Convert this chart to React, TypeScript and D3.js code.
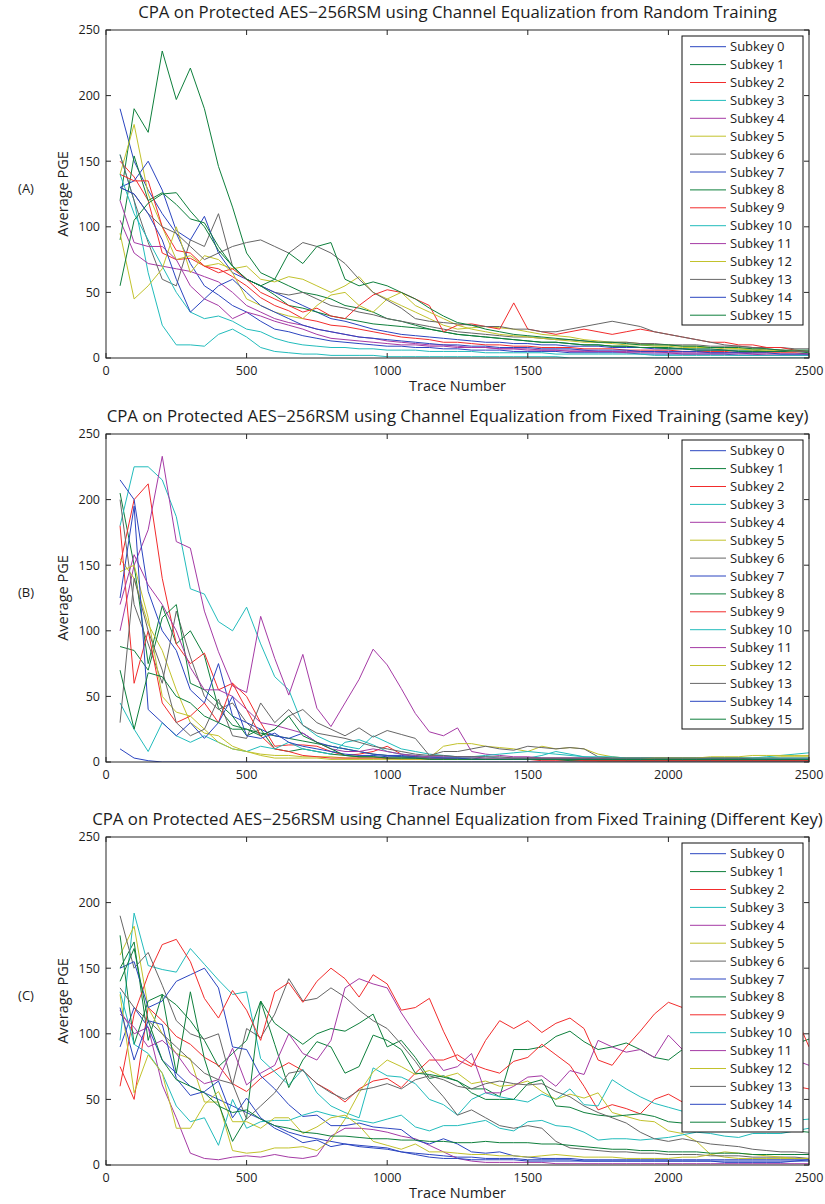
import React from "react";
import * as d3 from "d3";

const traces = [50,100,150,200,250,300,350,400,450,500,550,600,650,700,750,800,850,900,950,1000,1050,1100,1150,1200,1250,1300,1350,1400,1450,1500,1550,1600,1650,1700,1750,1800,1850,1900,1950,2000,2050,2100,2150,2200,2250,2300,2350,2400,2450,2500];
const xTicks = [0, 500, 1000, 1500, 2000, 2500];
const yTicks = [0, 50, 100, 150, 200, 250];
const subkeyLabels = ["Subkey 0","Subkey 1","Subkey 2","Subkey 3","Subkey 4","Subkey 5","Subkey 6","Subkey 7","Subkey 8","Subkey 9","Subkey 10","Subkey 11","Subkey 12","Subkey 13","Subkey 14","Subkey 15"];
const lineColors = ["#2b45c0", "#0e7f3c", "#f22c2c", "#22bcbc", "#a53aa5", "#c2c22c", "#666666"];
const panelTitles = [
  "CPA on Protected AES\u2212256RSM using Channel Equalization from Random Training",
  "CPA on Protected AES\u2212256RSM using Channel Equalization from Fixed Training (same key)",
  "CPA on Protected AES\u2212256RSM using Channel Equalization from Fixed Training (Different Key)",
];
const panelLabels = ["(A)", "(B)", "(C)"];

const randomTraining: number[][] = [
  [190,150,128,110,95,72,55,48,40,35,28,22,20,17,15,13,12,11,10,9,9,8,8,7,7,6,6,6,5,5,5,5,4,4,4,4,4,3,3,3,3,3,3,3,2,2,2,2,2,2],
  [120,190,172,234,197,221,190,146,115,80,65,60,55,50,48,45,40,38,35,30,28,25,22,20,18,17,16,15,14,13,12,12,11,10,10,9,9,8,8,8,7,7,7,6,6,6,5,5,5,4],
  [150,138,120,80,75,76,70,68,62,55,46,40,36,30,28,25,24,22,20,18,16,15,14,12,12,11,10,10,9,9,8,8,8,7,7,7,6,6,6,6,5,5,5,5,4,4,4,4,4,3],
  [155,120,65,25,10,10,9,18,22,16,8,5,4,3,3,2,2,2,2,1,1,1,1,1,1,1,1,1,1,1,1,1,0,0,0,0,0,0,0,0,0,0,0,0,0,0,0,0,0,0],
  [105,80,72,70,68,66,62,58,50,40,35,30,27,25,22,20,18,16,15,13,12,11,10,10,9,8,8,7,7,6,6,6,5,5,5,5,4,4,4,4,3,3,3,3,3,3,2,2,2,2],
  [140,178,125,100,75,78,70,72,68,70,60,58,62,60,55,50,55,62,50,45,40,35,30,25,22,23,24,23,22,20,18,17,16,14,13,12,12,11,10,10,9,9,8,8,7,7,6,6,5,5],
  [155,120,88,60,55,90,85,110,70,60,55,50,48,50,45,40,38,35,33,30,28,26,24,22,20,19,18,17,16,16,15,14,14,13,12,12,12,11,11,10,10,10,9,9,9,8,8,8,7,7],
  [130,135,150,128,97,90,108,80,65,60,55,50,45,40,35,30,28,25,22,20,18,17,16,15,14,13,12,12,11,11,10,10,9,9,9,8,8,8,7,7,7,6,6,6,5,5,5,5,5,5],
  [90,154,120,126,117,106,103,85,70,60,55,48,40,38,35,32,30,28,26,25,24,23,22,20,18,17,16,15,14,13,12,12,11,10,10,9,9,8,8,7,7,6,6,6,5,5,5,5,5,5],
  [140,135,135,100,82,80,70,65,68,60,50,45,40,35,38,32,30,40,48,52,50,45,40,20,25,26,24,22,42,22,20,18,20,22,20,18,20,22,20,18,16,14,12,12,10,10,8,8,6,5],
  [140,110,90,70,50,35,30,32,28,22,20,15,12,10,9,8,8,7,7,6,6,6,5,5,5,5,4,4,4,4,4,3,3,3,3,3,3,3,2,2,2,2,2,2,2,2,2,2,2,2],
  [120,88,85,85,75,55,45,40,30,35,32,28,25,22,18,15,14,13,12,11,10,10,9,9,8,8,8,7,7,7,6,6,6,6,5,5,5,5,5,4,4,4,4,4,4,3,3,3,3,3],
  [95,45,55,68,100,65,78,75,65,45,40,35,32,30,40,48,50,40,35,45,50,40,35,30,25,22,20,18,17,16,15,14,13,12,12,11,10,10,9,9,8,8,8,7,7,6,6,6,5,5],
  [130,125,110,100,95,85,75,80,85,88,90,85,80,88,85,80,72,60,50,44,38,30,28,27,26,25,24,24,22,22,20,20,22,24,26,28,26,24,20,18,16,14,12,10,9,8,7,6,5,5],
  [130,125,110,90,60,35,45,55,60,50,40,35,30,25,22,20,18,16,15,14,13,12,11,10,10,9,9,8,8,8,7,7,7,6,6,6,6,5,5,5,5,5,4,4,4,4,4,3,3,3],
  [55,105,118,125,126,112,100,82,70,60,55,60,80,72,85,88,60,55,58,55,50,45,38,32,27,25,22,20,18,17,16,15,14,13,12,12,11,10,10,10,9,9,8,8,8,7,7,6,6,6],
];

const fixedSameKey: number[][] = [
  [10,3,1,0,0,0,0,0,0,0,0,0,0,0,0,0,0,0,0,0,0,0,0,0,0,0,0,0,0,0,0,0,0,0,0,0,0,0,0,0,0,0,0,0,0,0,0,0,0,0],
  [205,150,75,119,90,100,81,41,28,25,22,20,18,16,14,12,10,8,6,5,4,4,3,3,3,2,2,2,2,2,2,2,2,2,1,1,1,1,1,1,1,1,1,1,1,1,1,1,1,1],
  [150,200,212,140,90,75,83,55,60,50,30,12,13,13,12,8,5,6,8,12,6,4,3,3,2,2,2,2,2,2,1,1,1,1,1,1,1,1,1,1,1,1,1,1,1,1,1,1,1,1],
  [180,225,225,215,187,132,128,107,100,118,90,65,55,28,20,15,12,10,20,15,10,8,6,5,4,4,4,3,3,3,5,8,6,4,3,3,3,3,3,3,3,3,3,3,3,3,4,5,6,7],
  [100,150,177,233,168,163,115,84,58,53,111,79,51,82,41,27,45,63,86,74,56,37,23,20,26,8,6,5,4,4,3,3,3,3,2,2,2,2,2,2,2,2,2,2,2,2,2,2,2,2],
  [155,140,105,85,55,30,22,20,12,8,6,5,5,4,4,4,3,3,3,3,3,3,3,12,14,14,12,11,10,8,12,10,11,10,6,4,3,3,3,3,3,3,3,3,3,3,3,4,4,4],
  [200,120,90,60,115,80,50,40,45,30,20,25,35,40,30,25,20,26,19,24,21,18,5,8,8,10,12,10,9,12,11,10,11,10,4,3,3,3,3,3,3,3,3,3,3,3,3,3,3,3],
  [215,200,130,100,85,55,45,75,35,30,25,20,18,22,15,12,10,8,6,5,5,4,4,3,3,3,2,2,2,2,2,2,2,2,2,2,1,1,1,1,1,1,1,1,1,1,1,1,1,1],
  [88,85,70,110,120,60,55,45,35,20,25,10,8,10,8,6,5,4,4,3,3,3,2,2,2,2,2,2,2,2,2,2,1,1,1,1,1,1,1,1,1,1,1,1,1,1,1,1,1,1],
  [180,60,100,45,30,35,45,30,60,40,20,10,8,5,4,3,3,3,3,3,2,2,2,2,2,2,2,2,2,2,2,2,2,1,1,1,1,1,1,1,1,1,1,1,1,1,1,1,1,1],
  [45,25,8,30,20,15,20,15,10,8,12,10,15,10,8,6,15,17,13,8,6,5,4,4,4,4,5,6,7,8,7,6,5,4,4,4,3,3,3,3,3,3,3,3,3,3,3,3,3,3],
  [120,158,135,120,100,72,55,55,50,40,30,28,25,22,15,10,8,8,10,8,6,5,4,4,4,4,3,3,3,3,3,3,3,3,3,2,2,2,2,2,2,2,2,2,2,2,2,2,2,2],
  [145,150,110,50,38,35,25,15,10,8,5,3,3,3,3,2,2,2,2,2,2,2,2,2,2,2,2,2,2,2,2,2,2,2,2,2,2,2,3,3,3,3,4,4,4,5,5,5,5,5],
  [30,140,100,70,30,20,25,48,20,18,45,30,40,28,22,20,18,15,12,10,8,6,5,5,4,4,4,4,3,3,3,3,3,3,3,3,3,3,3,3,3,3,3,3,3,2,2,2,2,2],
  [125,195,40,30,20,30,18,30,50,20,18,22,15,12,10,8,6,5,5,4,4,3,3,3,3,2,2,2,2,2,2,2,2,2,2,2,2,2,2,2,2,2,2,2,2,2,2,2,2,2],
  [70,25,68,65,50,45,35,30,25,25,20,25,35,20,15,10,5,4,4,3,3,3,2,2,2,2,2,2,2,2,2,2,2,2,2,2,2,2,2,2,2,2,2,2,2,2,2,2,2,2],
];

const fixedDifferentKey: number[][] = [
  [90,120,105,80,70,60,55,50,45,40,35,30,25,22,20,18,16,14,13,12,10,9,8,7,6,6,5,5,5,4,4,4,4,3,3,3,3,3,3,3,3,3,3,2,2,2,2,2,3,4],
  [150,170,95,130,122,110,95,75,85,95,125,108,100,92,100,104,102,108,115,90,95,82,66,68,64,58,58,52,88,88,90,98,102,94,88,90,93,88,82,80,88,90,92,90,88,92,90,88,92,96],
  [75,50,120,110,98,92,82,76,62,56,66,72,78,72,62,56,48,58,64,66,59,70,80,80,84,77,73,70,79,82,92,84,76,60,42,46,43,39,50,54,48,50,55,60,58,62,65,62,60,58],
  [95,192,152,149,147,165,153,141,130,132,81,71,61,73,55,45,40,36,74,68,67,62,50,46,38,50,55,52,50,48,54,50,58,46,45,65,58,52,47,44,41,40,38,37,36,36,35,34,34,35],
  [118,100,105,61,36,9,5,4,6,7,6,8,6,5,7,22,28,28,27,25,22,20,15,10,5,3,2,2,2,2,2,1,1,1,1,1,1,1,1,1,1,1,1,1,1,1,1,1,1,1],
  [160,182,120,100,85,81,48,48,11,9,10,13,13,14,11,19,35,55,71,80,75,69,72,67,70,62,64,60,61,64,56,50,54,51,55,40,37,34,33,26,24,18,8,6,5,5,5,5,5,5],
  [190,150,162,137,110,100,96,100,61,104,97,115,142,125,127,135,128,118,110,104,92,79,64,52,38,42,36,30,28,30,28,18,13,12,11,10,10,9,9,8,8,8,7,7,7,6,6,6,6,5],
  [150,155,120,125,140,145,150,135,90,88,68,58,46,37,38,30,30,32,29,28,27,19,16,20,16,10,9,10,7,6,5,5,5,4,4,4,4,4,4,4,4,4,4,4,4,4,4,4,4,4],
  [175,92,125,130,70,132,81,47,18,36,125,92,59,80,94,90,70,75,99,95,88,70,69,67,64,55,50,50,50,62,65,45,44,40,38,37,38,39,37,33,32,30,30,29,28,28,27,27,26,25],
  [60,115,145,168,172,155,127,112,133,118,95,132,139,124,140,150,142,128,145,138,118,120,127,102,80,75,95,110,104,110,101,108,112,104,80,76,90,102,115,124,120,118,115,112,108,112,110,118,115,90],
  [132,92,85,70,45,33,36,15,50,28,33,34,34,38,41,38,36,34,32,35,38,29,26,30,30,32,34,28,26,33,34,30,29,25,19,20,20,19,20,21,23,25,24,22,21,24,24,24,26,28],
  [115,105,90,95,85,70,62,65,89,61,70,76,100,85,80,95,135,142,138,135,116,100,86,72,75,85,55,55,60,67,68,60,72,69,95,90,86,88,82,99,88,85,80,82,85,80,78,82,80,76],
  [130,55,84,70,28,28,46,56,33,33,28,36,36,24,29,36,38,30,18,15,12,16,10,10,9,8,8,7,7,6,7,8,7,6,6,6,5,5,5,5,6,6,8,10,9,8,7,6,5,5],
  [135,120,110,100,90,80,70,65,62,35,45,55,70,72,62,55,50,57,59,62,58,65,68,65,60,58,62,64,62,61,62,56,52,45,40,36,32,25,20,18,20,18,16,15,14,12,11,10,10,9],
  [120,80,110,107,66,53,56,64,36,51,36,28,23,17,19,14,16,15,14,13,10,8,6,5,5,4,4,4,4,3,3,3,3,3,3,3,3,3,3,3,3,3,3,3,3,3,3,3,3,3],
  [140,165,110,80,65,60,55,45,40,42,35,30,28,25,24,22,22,21,20,20,19,19,18,18,17,17,18,17,17,17,16,16,15,14,13,12,12,11,11,10,10,10,9,9,9,8,8,8,8,8],
];

const panelData = [randomTraining, fixedSameKey, fixedDifferentKey];

const FONT = "'Open Sans', 'DejaVu Sans', sans-serif";
const LEFT = 106;
const RIGHT = 809;
const PLOT_H = 328;
const TOPS = [30, 434, 837];
const AXIS = "#262626";
const TEXT = "#1c1c1c";

function Panel({ top, series, title, label }: { top: number; series: number[][]; title: string; label: string }) {
  const bottom = top + PLOT_H;
  const x = d3.scaleLinear().domain([0, 2500]).range([LEFT, RIGHT]);
  const y = d3.scaleLinear().domain([0, 250]).range([bottom, top]);
  const line = d3
    .line<number>()
    .x((_, i) => x(traces[i]))
    .y((d) => y(d));
  const tickLen = 5;
  const legX = 682;
  const legY = top + 6;
  const legW = 121;
  const legH = 289;
  const clipId = "clip" + top;
  return (
    <g>
      <text x={(LEFT + RIGHT) / 2} y={top - 18} dy="0.35em" textAnchor="middle" fontSize={16.8} fill={TEXT} fontFamily={FONT}>
        {title}
      </text>
      <defs>
        <clipPath id={clipId}>
          <rect x={LEFT} y={top} width={RIGHT - LEFT} height={PLOT_H} />
        </clipPath>
      </defs>
      <g clipPath={`url(#${clipId})`}>
        {series.map((s, i) => (
          <path key={i} d={line(s) || ""} fill="none" stroke={lineColors[i % lineColors.length]} strokeWidth={1} strokeLinejoin="round" />
        ))}
      </g>
      <rect x={LEFT} y={top} width={RIGHT - LEFT} height={PLOT_H} fill="none" stroke={AXIS} strokeWidth={1} />
      {xTicks.map((t) => (
        <g key={"x" + t}>
          <line x1={x(t)} x2={x(t)} y1={bottom} y2={bottom - tickLen} stroke={AXIS} />
          <line x1={x(t)} x2={x(t)} y1={top} y2={top + tickLen} stroke={AXIS} />
          <text x={x(t)} y={bottom + 13} dy="0.35em" textAnchor="middle" fontSize={12.5} fill={TEXT} fontFamily={FONT}>
            {t}
          </text>
        </g>
      ))}
      {yTicks.map((t) => (
        <g key={"y" + t}>
          <line x1={LEFT} x2={LEFT + tickLen} y1={y(t)} y2={y(t)} stroke={AXIS} />
          <line x1={RIGHT} x2={RIGHT - tickLen} y1={y(t)} y2={y(t)} stroke={AXIS} />
          <text x={100} y={y(t)} dy="0.35em" textAnchor="end" fontSize={12.5} fill={TEXT} fontFamily={FONT}>
            {t}
          </text>
        </g>
      ))}
      <text x={(LEFT + RIGHT) / 2} y={bottom + 28} dy="0.35em" textAnchor="middle" fontSize={14.5} fill={TEXT} fontFamily={FONT}>
        Trace Number
      </text>
      <text
        transform={`translate(63,${(top + bottom) / 2}) rotate(-90)`}
        dy="0.35em"
        textAnchor="middle"
        fontSize={14.5}
        fill={TEXT}
        fontFamily={FONT}
      >
        Average PGE
      </text>
      <text x={26} y={(top + bottom) / 2 - 6} dy="0.35em" textAnchor="middle" fontSize={13} fill={TEXT} fontFamily={FONT}>
        {label}
      </text>
      <rect x={legX} y={legY} width={legW} height={legH} fill="#ffffff" stroke="#111" strokeWidth={1} />
      {subkeyLabels.map((name, i) => {
        const cy = legY + 10.7 + i * 17.9;
        return (
          <g key={name}>
            <line x1={legX + 8} x2={legX + 44} y1={cy} y2={cy} stroke={lineColors[i % lineColors.length]} strokeWidth={1} />
            <text x={legX + 48} y={cy} dy="0.35em" fontSize={13} fill={TEXT} fontFamily={FONT}>
              {name}
            </text>
          </g>
        );
      })}
    </g>
  );
}

export default function App() {
  return (
    <svg
      width={825}
      height={1204}
      viewBox="0 0 825 1204"
      style={{ position: "absolute", left: 0, top: 0, background: "#fff" }}
      xmlns="http://www.w3.org/2000/svg"
    >
      <rect x={0} y={0} width={825} height={1204} fill="#ffffff" />
      {TOPS.map((top, i) => (
        <Panel key={i} top={top} series={panelData[i]} title={panelTitles[i]} label={panelLabels[i]} />
      ))}
    </svg>
  );
}
